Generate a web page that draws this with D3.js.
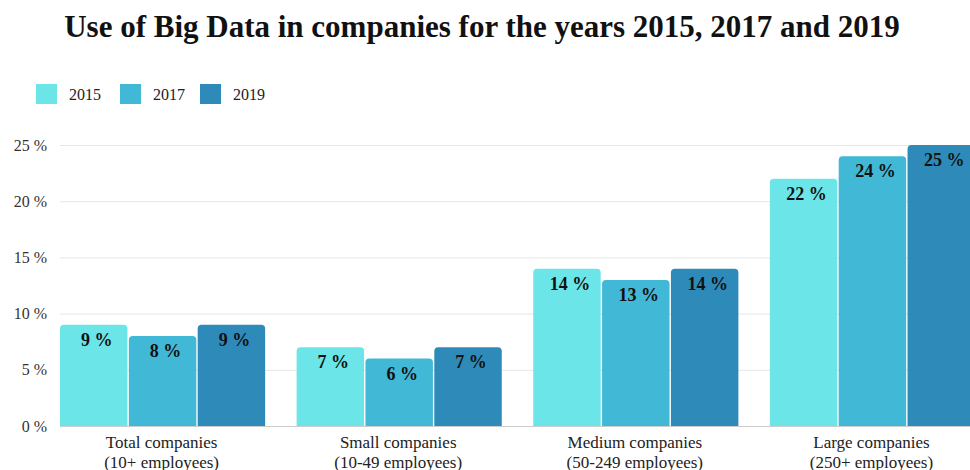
<!DOCTYPE html>
<html>
<head>
<meta charset="utf-8">
<script src="https://cdn.jsdelivr.net/npm/d3@7/dist/d3.min.js"></script>
<style>
  html, body { margin: 0; padding: 0; background: #fff; }
  svg { display: block; font-family: "Liberation Serif", "Times New Roman", serif; }
</style>
</head>
<body>
<svg id="chart" width="970" height="470"></svg>
<script>
// Share of companies using Big Data, by company size
const categories = [
  ["Total companies", "(10+ employees)"],
  ["Small companies", "(10-49 employees)"],
  ["Medium companies", "(50-249 employees)"],
  ["Large companies", "(250+ employees)"]
];
const years = ["2015", "2017", "2019"];
const values2015 = [9, 7, 14, 22];
const values2017 = [8, 6, 13, 24];
const values2019 = [9, 7, 14, 25];
const yTicks = [0, 5, 10, 15, 20, 25];
const colors = ["#6be5e8", "#41b8d5", "#2e8ab9"];

const series = [values2015, values2017, values2019];
const svg = d3.select("#chart");

const plot = { left: 60, right: 975, top: 145, bottom: 426 };

const x0 = d3.scaleBand()
  .domain(d3.range(categories.length))
  .range([plot.left, plot.right])
  .paddingInner(0.133)
  .paddingOuter(0);

const x1 = d3.scaleBand()
  .domain(d3.range(years.length))
  .range([0, x0.bandwidth()])
  .paddingInner(0.02);

const y = d3.scaleLinear().domain([0, 25]).range([plot.bottom, plot.top]);

// Title
svg.append("text")
  .attr("x", 482).attr("y", 37)
  .attr("text-anchor", "middle")
  .attr("font-size", 31).attr("font-weight", "bold")
  .attr("fill", "#111")
  .text("Use of Big Data in companies for the years 2015, 2017 and 2019");

// Legend
const legendX = [36, 120, 200];
years.forEach((yr, i) => {
  const g = svg.append("g").attr("transform", `translate(${legendX[i]},84)`);
  g.append("rect").attr("width", 21).attr("height", 20).attr("fill", colors[i]);
  g.append("text").attr("x", 33).attr("y", 16)
    .attr("font-size", 16).attr("fill", "#222").text(yr);
});

// Grid lines and y labels
const yAxis = d3.axisLeft(y).tickValues(yTicks).tickSize(0).tickFormat(d => d + " %");
const yg = svg.append("g").attr("transform", `translate(${plot.left},0)`).call(yAxis);
yg.select(".domain").remove();
yg.selectAll("text").attr("x", -13).attr("dy", "0.32em")
  .attr("font-size", 16).attr("font-family", "\"Liberation Serif\", \"Times New Roman\", serif")
  .attr("fill", "#333");
yg.selectAll(".tick").filter(d => d !== 0).append("line")
  .attr("x1", 0).attr("x2", 970 - plot.left)
  .attr("stroke", "#e6e6e6").attr("stroke-width", 1);

// Rounded-top bar path
function barPath(x, yTop, w, h, r) {
  return `M${x},${yTop + h}V${yTop + r}Q${x},${yTop} ${x + r},${yTop}` +
         `H${x + w - r}Q${x + w},${yTop} ${x + w},${yTop + r}V${yTop + h}Z`;
}

const groups = svg.append("g").selectAll("g")
  .data(categories.map((c, i) => i))
  .join("g")
  .attr("transform", i => `translate(${x0(i)},0)`);

groups.each(function(ci) {
  const g = d3.select(this);
  series.forEach((vals, si) => {
    const v = vals[ci];
    const bx = x1(si), bw = x1.bandwidth();
    g.append("path")
      .attr("d", barPath(bx, y(v), bw, y(0) - y(v), 4))
      .attr("fill", colors[si]);
    g.append("text")
      .attr("x", bx + bw / 2 + 3).attr("y", y(v) + 21)
      .attr("text-anchor", "middle")
      .attr("font-size", 18).attr("font-weight", "bold")
      .attr("fill", "#111")
      .text(v + " %");
  });
});

// X axis baseline and category labels
svg.append("line")
  .attr("x1", plot.left).attr("x2", 970)
  .attr("y1", plot.bottom + 0.5).attr("y2", plot.bottom + 0.5)
  .attr("stroke", "#ccc");

const xl = svg.append("g").selectAll("text")
  .data(categories)
  .join("text")
  .attr("x", (d, i) => x0(i) + x0.bandwidth() / 2 - 1)
  .attr("y", 448)
  .attr("text-anchor", "middle")
  .attr("font-size", 17).attr("fill", "#222");
xl.append("tspan").attr("x", function() { return d3.select(this.parentNode).attr("x"); })
  .text(d => d[0]);
xl.append("tspan").attr("x", function() { return d3.select(this.parentNode).attr("x"); })
  .attr("dy", 20).text(d => d[1]);
</script>
</body>
</html>
